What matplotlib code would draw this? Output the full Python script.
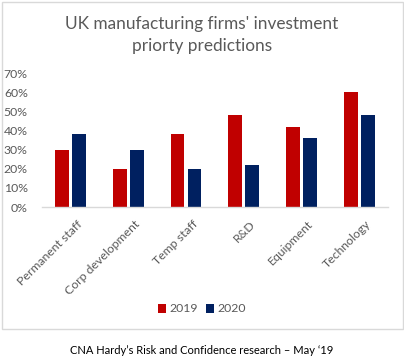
#!/usr/bin/env python3
"""UK manufacturing firms' investment priority predictions, 2019 vs 2020."""

import matplotlib

matplotlib.use("Agg")
import matplotlib.pyplot as plt
import numpy as np
from matplotlib.patches import Rectangle
from matplotlib.ticker import PercentFormatter
from matplotlib.transforms import ScaledTranslation

CATEGORIES = [
    "Permanent staff",
    "Corp development",
    "Temp staff",
    "R&D",
    "Equipment",
    "Technology",
]
SERIES_LABELS = ["2019", "2020"]
VALUES_2019 = [0.30, 0.20, 0.38, 0.48, 0.42, 0.60]
VALUES_2020 = [0.38, 0.30, 0.20, 0.22, 0.36, 0.48]
Y_TICKS = [0.0, 0.1, 0.2, 0.3, 0.4, 0.5, 0.6, 0.7]

TITLE = "UK manufacturing firms' investment\npriorty predictions"
CAPTION = "CNA Hardy\u2019s Risk and Confidence research \u2013 May \u201819"

RED = "#C00000"
NAVY = "#002060"
TEXT_GRAY = "#595959"
LINE_GRAY = "#D9D9D9"

plt.rcParams["font.family"] = ["Lato", "DejaVu Sans"]

W, H = 404, 363
fig = plt.figure(figsize=(W / 100, H / 100), dpi=100)

# chart border (Excel chart area)
fig.patches.append(
    Rectangle(
        (1.5 / W, 1 - 329 / H),
        (403 - 1.5) / W,
        (329 - 2) / H,
        transform=fig.transFigure,
        fill=False,
        edgecolor=LINE_GRAY,
        linewidth=1.0,
    )
)

ax = fig.add_axes([41.7 / W, 1 - 207 / H, (388 - 41.7) / W, (207 - 73.3) / H])

x = np.arange(len(CATEGORIES))
width = 0.24
gap = 0.028
ax.bar(x - width / 2 - gap, VALUES_2019, width=width, color=RED, label=SERIES_LABELS[0])
ax.bar(x + width / 2 + gap, VALUES_2020, width=width, color=NAVY, label=SERIES_LABELS[1])

ax.set_xlim(-0.5, len(CATEGORIES) - 0.5)
ax.set_ylim(0, 0.7)
ax.set_yticks(Y_TICKS)
ax.yaxis.set_major_formatter(PercentFormatter(1.0, decimals=0))
ax.set_xticks(x)
ax.set_xticklabels(CATEGORIES, rotation=45, ha="right", va="top", rotation_mode="anchor")
ax.tick_params(axis="both", length=0, labelsize=8.8, labelcolor=TEXT_GRAY)
ax.tick_params(axis="y", pad=10)
ax.tick_params(axis="x", pad=6)

# nudge rotated labels so their ends sit just right of the category centre
shift = ScaledTranslation(0.06, -0.03, fig.dpi_scale_trans)
for label in ax.get_xticklabels():
    label.set_transform(label.get_transform() + shift)

for side in ["top", "right", "left"]:
    ax.spines[side].set_visible(False)
ax.spines["bottom"].set_color(LINE_GRAY)
ax.spines["bottom"].set_linewidth(1.0)

fig.text(0.5, 1 - 35 / H, TITLE, ha="center", va="center", fontsize=12.4,
         color=TEXT_GRAY, linespacing=1.4)

fig.legend(
    loc="center",
    bbox_to_anchor=(0.5, 1 - 309 / H),
    ncol=2,
    frameon=False,
    fontsize=8.8,
    labelcolor=TEXT_GRAY,
    handlelength=0.7,
    handleheight=0.7,
    handletextpad=0.3,
    columnspacing=0.6,
)

fig.text(0.5, 1 - 350 / H, CAPTION, ha="center", va="center", fontsize=8.0, color="black")

fig.savefig("out.png", dpi=100)
